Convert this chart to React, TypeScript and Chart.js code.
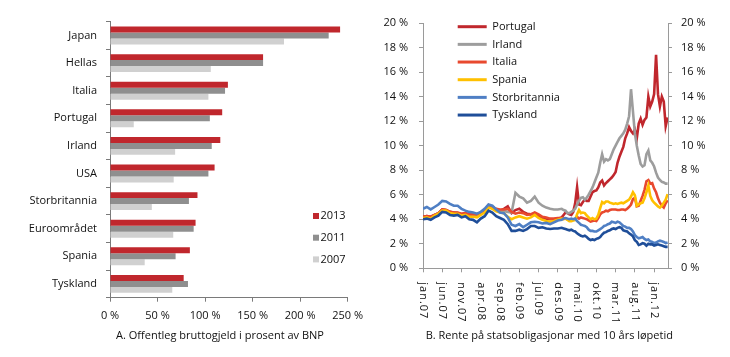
import React, { useEffect, useRef } from "react";
import { Chart, registerables } from "chart.js";
Chart.register(...registerables);

const FONT = "'Open Sans', sans-serif";
const TEXT = "#111111";

// ---------- Panel A: gross government debt (% of GDP) ----------
const categories = ["Japan", "Hellas", "Italia", "Portugal", "Irland", "USA", "Storbritannia", "Euroområdet", "Spania", "Tyskland"];
const debtYears = ["2013", "2011", "2007"];
const debt2013 = [242, 161, 124, 118, 116, 110, 92, 90, 84, 77.5];
const debt2011 = [230, 161, 121, 105, 107, 103.5, 83, 88, 69, 82];
const debt2007 = [183, 106, 103.5, 25, 68.5, 67, 44, 66.5, 36.5, 65.5];
const debtTicks = [0, 50, 100, 150, 200, 250];
const titleA = "A. Offentleg bruttogjeld i prosent av BNP";

// ---------- Panel B: 10-year government bond yields ----------
// months since January 2007
const months = [
  0, 1, 2, 3, 4, 5, 6, 7, 8, 9, 10, 11,
  12, 13, 14, 15, 16, 17, 18, 19, 20, 21, 22, 23,
  24, 25, 26, 27, 28, 29, 30, 31, 32, 33, 34, 35,
  36, 36.5, 37, 37.5, 38, 38.5, 39, 39.5,
  40, 40.5, 41, 41.5, 42, 42.5, 43, 43.5,
  44, 44.5, 45, 45.5, 46, 46.5, 47, 47.5,
  48, 48.5, 49, 49.5, 50, 50.5, 51, 51.5,
  52, 52.5, 53, 53.5, 54, 54.5, 55, 55.5,
  56, 56.5, 57, 57.5, 58, 58.5, 59, 59.5,
  60, 60.5, 61, 61.5, 62, 62.5, 63, 63.5,
];
const portugal = [
  4.2, 4.25, 4.2, 4.35, 4.5, 4.8, 4.75, 4.6, 4.55, 4.5, 4.4, 4.5,
  4.35, 4.4, 4.4, 4.5, 4.7, 5.1, 5.0, 4.8, 4.7, 4.85, 5.05, 4.5,
  4.75, 4.85, 4.6, 4.45, 4.4, 4.45, 4.3, 4.1, 4.05, 4.0, 4.0, 4.05,
  4.15, 4.35, 4.55, 4.5, 4.4, 4.35, 4.6, 5.3,
  6.6, 5.2, 5.15, 5.4, 5.6, 5.5, 5.5, 5.85,
  6.2, 6.3, 6.35, 6.6, 7.0, 7.15, 6.75, 6.95,
  7.1, 7.25, 7.4, 7.6, 7.85, 8.6, 9.1, 9.5,
  9.9, 10.6, 11.0, 11.5, 11.2, 11.0, 11.3, 10.6,
  11.8, 12.2, 11.7, 12.1, 12.3, 14.0, 13.2, 13.6,
  14.2, 17.4, 14.2, 13.2, 14.0, 13.6, 11.6, 12.3,
];
const irland = [
  4.15, 4.2, 4.12, 4.32, 4.47, 4.75, 4.72, 4.55, 4.5, 4.5, 4.38, 4.42,
  4.3, 4.3, 4.28, 4.45, 4.65, 5.05, 4.92, 4.75, 4.68, 4.68, 4.6, 4.55,
  6.15, 5.85, 5.7, 5.35, 5.5, 5.85, 5.35, 5.1, 4.95, 4.85, 4.8, 4.8,
  4.85, 4.75, 4.7, 4.5, 4.5, 4.6, 4.7, 4.85,
  5.2, 5.5, 5.75, 5.8, 5.6, 5.75, 6.0, 6.3,
  6.6, 7.0, 7.4, 7.8, 8.6, 9.3, 8.7, 8.9,
  8.8, 8.9, 9.3, 9.7, 10.0, 10.3, 10.6, 10.8,
  11.0, 11.3, 11.8, 12.4, 14.6, 12.8, 11.0, 10.0,
  9.2, 8.5, 8.3, 8.4, 9.3, 9.6, 8.8, 8.6,
  8.3, 7.8, 7.4, 7.2, 7.05, 7.0, 6.9, 6.9,
];
const italia = [
  4.2, 4.25, 4.2, 4.35, 4.5, 4.8, 4.75, 4.6, 4.55, 4.55, 4.45, 4.5,
  4.4, 4.4, 4.4, 4.55, 4.75, 5.15, 5.0, 4.85, 4.8, 4.8, 4.85, 4.6,
  4.45, 4.55, 4.5, 4.35, 4.4, 4.55, 4.4, 4.2, 4.15, 4.05, 4.05, 4.1,
  4.1, 4.1, 4.05, 4.0, 3.95, 3.95, 4.0, 4.0,
  4.2, 4.05, 4.15, 4.1, 4.05, 4.0, 3.9, 3.8,
  3.85, 3.9, 3.85, 4.1, 4.4, 4.55, 4.6, 4.7,
  4.65, 4.75, 4.8, 4.8, 4.8, 4.75, 4.75, 4.8,
  4.8, 4.75, 4.85, 5.0, 5.2, 5.65, 5.75, 5.05,
  5.1, 5.5, 5.9, 6.4, 7.1, 7.2, 6.9, 6.95,
  6.5, 6.2, 5.7, 5.35, 5.1, 4.95, 5.3, 5.55,
];
const spania = [
  4.1, 4.15, 4.05, 4.3, 4.45, 4.7, 4.7, 4.5, 4.45, 4.45, 4.3, 4.35,
  4.2, 4.2, 4.15, 4.35, 4.55, 4.95, 4.85, 4.65, 4.55, 4.5, 4.2, 4.0,
  4.15, 4.25, 4.15, 4.05, 4.15, 4.35, 4.1, 3.95, 3.85, 3.8, 3.85, 3.95,
  4.05, 4.0, 4.05, 3.95, 3.85, 3.85, 3.9, 3.95,
  4.4, 4.75, 4.5, 4.55, 4.5, 4.3, 4.15, 4.0,
  4.1, 4.0, 4.05, 4.35, 4.9, 5.4, 5.3, 5.45,
  5.45, 5.35, 5.3, 5.25, 5.3, 5.25, 5.3, 5.35,
  5.3, 5.4, 5.5, 5.6, 5.85, 6.2, 5.95, 5.1,
  5.2, 5.3, 5.35, 5.7, 6.2, 6.75, 5.9, 5.55,
  5.35, 5.2, 5.05, 4.95, 5.1, 5.35, 5.6, 6.05,
];
const storbritannia = [
  4.85, 5.0, 4.8, 5.0, 5.2, 5.5, 5.45, 5.25, 5.1, 5.1, 4.85, 4.7,
  4.6, 4.55, 4.45, 4.6, 4.85, 5.2, 5.1, 4.8, 4.55, 4.5, 4.15, 3.55,
  3.45, 3.6, 3.35, 3.55, 3.75, 3.8, 3.75, 3.65, 3.7, 3.6, 3.75, 3.9,
  3.95, 4.05, 4.1, 4.05, 4.0, 4.05, 4.0, 4.05,
  3.85, 3.7, 3.55, 3.5, 3.45, 3.35, 3.15, 3.05,
  3.05, 3.0, 3.0, 3.1, 3.2, 3.3, 3.45, 3.5,
  3.6, 3.65, 3.8, 3.75, 3.7, 3.8, 3.75, 3.6,
  3.45, 3.4, 3.3, 3.3, 3.2, 3.0, 2.7, 2.55,
  2.45, 2.5, 2.55, 2.4, 2.3, 2.35, 2.2, 2.15,
  2.05, 2.1, 2.2, 2.25, 2.2, 2.15, 2.05, 2.1,
];
const tyskland = [
  4.0, 4.05, 3.95, 4.15, 4.3, 4.6, 4.55, 4.35, 4.3, 4.35, 4.15, 4.25,
  4.0, 3.95, 3.75, 4.05, 4.25, 4.7, 4.55, 4.25, 4.1, 3.95, 3.6, 3.05,
  3.05, 3.15, 3.05, 3.2, 3.45, 3.45, 3.3, 3.35, 3.25, 3.2, 3.25, 3.25,
  3.3, 3.25, 3.2, 3.15, 3.1, 3.15, 3.05, 3.0,
  2.85, 2.75, 2.65, 2.6, 2.65, 2.55, 2.4, 2.3,
  2.35, 2.3, 2.4, 2.45, 2.55, 2.75, 2.9, 2.95,
  3.05, 3.1, 3.2, 3.25, 3.2, 3.3, 3.35, 3.3,
  3.1, 3.05, 3.0, 2.85, 2.75, 2.6, 2.3, 2.15,
  1.9, 1.95, 2.05, 2.0, 1.85, 2.0, 1.95, 1.95,
  1.85, 1.9, 1.95, 1.9, 1.85, 1.8, 1.75, 1.75,
];
const seriesNames = ["Portugal", "Irland", "Italia", "Spania", "Storbritannia", "Tyskland"];
const seriesColors = ["#c0272d", "#9d9d9d", "#e8492f", "#ffc000", "#4f7fc4", "#1f4e99"];
const dateTickMonths = [0, 5, 10, 15, 20, 25, 30, 35, 40, 45, 50, 55, 60];
const dateTickLabels = ["jan.07", "jun.07", "nov.07", "apr.08", "sep.08", "feb.09", "jul.09", "des.09", "mai.10", "okt.10", "mar.11", "aug.11", "jan.12"];
const yieldTicks = [0, 2, 4, 6, 8, 10, 12, 14, 16, 18, 20];
const titleB = "B. Rente på statsobligasjonar med 10 års løpetid";

const font11 = { family: FONT, size: 11 };

function DebtChart() {
  const ref = useRef<HTMLCanvasElement>(null);
  useEffect(() => {
    const canvas = ref.current;
    if (!canvas) return;
    const axisColor = "#7a7a7a";
    const barColors = ["#c0272d", "#8f8f8f", "#d0d0d0"];
    const values = [debt2013, debt2011, debt2007];
    const overlay = {
      id: "debtOverlay",
      afterDraw(chart: any) {
        const ctx = chart.ctx;
        const a = chart.chartArea;
        ctx.save();
        ctx.font = `11px ${FONT}`;
        ctx.textBaseline = "middle";
        ctx.textAlign = "left";
        debtYears.forEach((yr, i) => {
          const cy = a.top + 194.3 + i * 21.7;
          ctx.fillStyle = barColors[i];
          ctx.fillRect(a.left + 203, cy - 3, 6, 6);
          ctx.fillStyle = TEXT;
          ctx.fillText(yr, a.left + 210.5, cy);
        });
        ctx.textAlign = "center";
        ctx.fillStyle = TEXT;
        ctx.fillText(titleA, a.left + 110, a.bottom + 38);
        ctx.restore();
      },
    };
    const chart = new Chart(canvas, {
      type: "bar",
      data: {
        labels: categories,
        datasets: values.map((d, i) => ({
          label: debtYears[i],
          data: d,
          backgroundColor: barColors[i],
          borderWidth: 0,
          categoryPercentage: 0.65,
          barPercentage: 1.0,
        })),
      },
      options: {
        indexAxis: "y",
        responsive: false,
        animation: false,
        layout: { padding: { top: 21.7, right: 27.3, bottom: 0, left: 0 } },
        plugins: { legend: { display: false }, tooltip: { enabled: false } },
        scales: {
          x: {
            type: "linear",
            min: 0,
            max: 250,
            afterBuildTicks: (s: any) => {
              s.ticks = debtTicks.map((v) => ({ value: v }));
            },
            ticks: { callback: (v: any) => `${v} %`, font: font11, color: TEXT, padding: 8, maxRotation: 0 },
            grid: { drawOnChartArea: false, drawTicks: true, tickLength: 4, color: axisColor },
            border: { display: true, color: axisColor },
            afterFit: (s: any) => {
              s.height = 59.3;
            },
          },
          y: {
            ticks: { font: font11, color: TEXT, padding: 9 },
            grid: { drawOnChartArea: false, drawTicks: true, tickLength: 4, color: axisColor, offset: true },
            border: { display: true, color: axisColor },
            afterFit: (s: any) => {
              s.width = 110;
            },
          },
        },
      } as any,
      plugins: [overlay],
    });
    return () => chart.destroy();
  }, []);
  return <canvas ref={ref} width={375} height={357} style={{ position: "absolute", left: 0, top: 0 }} />;
}

function YieldChart() {
  const ref = useRef<HTMLCanvasElement>(null);
  useEffect(() => {
    const canvas = ref.current;
    if (!canvas) return;
    const axisColor = "#9a9a9a";
    const series = [portugal, irland, italia, spania, storbritannia, tyskland];
    const overlay = {
      id: "yieldOverlay",
      afterDraw(chart: any) {
        const ctx = chart.ctx;
        const a = chart.chartArea;
        const xs = chart.scales.x;
        ctx.save();
        ctx.fillStyle = TEXT;
        ctx.font = `11px ${FONT}`;
        // rotated date labels
        ctx.textAlign = "left";
        ctx.textBaseline = "middle";
        try {
          (ctx as any).letterSpacing = "1px";
        } catch (e) {}
        dateTickMonths.forEach((m, i) => {
          const x = xs.getPixelForValue(m);
          ctx.save();
          ctx.translate(x, a.bottom + 14);
          ctx.rotate(Math.PI / 2);
          ctx.fillText(dateTickLabels[i], 0, 0);
          ctx.restore();
        });
        try {
          (ctx as any).letterSpacing = "0px";
        } catch (e) {}
        // legend
        seriesNames.forEach((name, i) => {
          const cy = a.top + 3.7 + i * 17.67;
          ctx.strokeStyle = seriesColors[i];
          ctx.lineWidth = 3;
          ctx.beginPath();
          ctx.moveTo(a.left + 34.7, cy);
          ctx.lineTo(a.left + 63.7, cy);
          ctx.stroke();
          ctx.fillStyle = TEXT;
          ctx.fillText(name, a.left + 69.3, cy);
        });
        ctx.textAlign = "center";
        ctx.fillText(titleB, a.left + 126.3, a.bottom + 67.4);
        ctx.restore();
      },
    };
    const yAxis = (pos: string, width: number, pad: number) => ({
      type: "linear",
      position: pos,
      min: 0,
      max: 20,
      afterBuildTicks: (s: any) => {
        s.ticks = yieldTicks.map((v) => ({ value: v }));
      },
      ticks: { callback: (v: any) => `${v} %`, font: font11, color: TEXT, padding: pad },
      grid: { drawOnChartArea: false, drawTicks: true, tickLength: 4, color: axisColor },
      border: { display: true, color: axisColor },
      afterFit: (s: any) => {
        s.width = width;
      },
    });
    const chart = new Chart(canvas, {
      type: "line",
      data: {
        datasets: series.map((d, i) => ({
          label: seriesNames[i],
          data: months.map((m, j) => ({ x: m, y: d[j] })),
          borderColor: seriesColors[i],
          backgroundColor: seriesColors[i],
          borderWidth: 2.6,
          pointRadius: 0,
          tension: 0,
          fill: false,
          order: series.length - i,
        })),
      },
      options: {
        responsive: false,
        animation: false,
        layout: { padding: { top: 23, right: 0, bottom: 0, left: 0 } },
        plugins: { legend: { display: false }, tooltip: { enabled: false } },
        scales: {
          x: {
            type: "linear",
            min: 0,
            max: 63.6,
            afterBuildTicks: (s: any) => {
              s.ticks = dateTickMonths.map((v) => ({ value: v }));
            },
            ticks: { display: false },
            grid: { drawOnChartArea: false, drawTicks: true, tickLength: 4, color: axisColor },
            border: { display: true, color: axisColor },
            afterFit: (s: any) => {
              s.height = 88.7;
            },
          },
          y: yAxis("left", 58, 11),
          y2: yAxis("right", 62, 9),
        },
      } as any,
      plugins: [overlay],
    });
    return () => chart.destroy();
  }, []);
  return <canvas ref={ref} width={365} height={357} style={{ position: "absolute", left: 365, top: 0 }} />;
}

export default function App() {
  return (
    <div style={{ position: "fixed", left: 0, top: 0, width: 730, height: 357, background: "#fff", overflow: "hidden" }}>
      <DebtChart />
      <YieldChart />
    </div>
  );
}
